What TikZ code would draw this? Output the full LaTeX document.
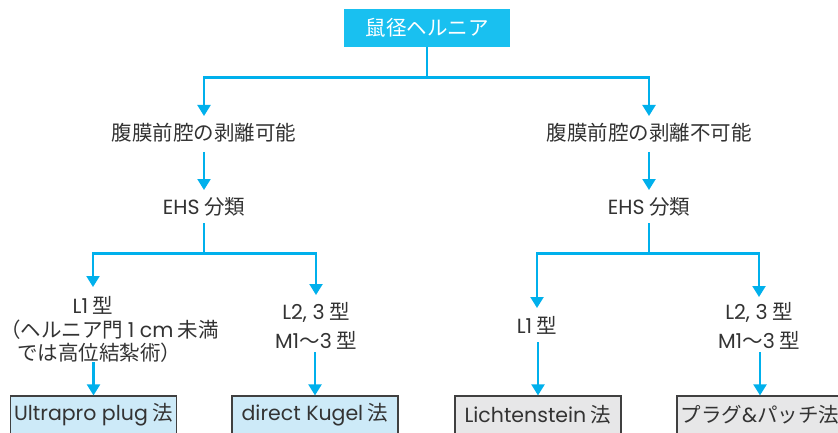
\documentclass[tikz,border=0pt]{standalone}
\usepackage{fontspec}
\setmainfont{Noto Sans CJK JP}
\newfontfamily\latf{Poppins}
\usetikzlibrary{arrows.meta,calc}
\definecolor{cy}{RGB}{0,176,236}
\definecolor{topfill}{RGB}{25,192,240}
\definecolor{txt}{RGB}{51,51,51}
\definecolor{bluefill}{RGB}{205,234,248}
\definecolor{grayfill}{RGB}{231,231,232}
\definecolor{bord}{RGB}{64,64,64}
\newcommand\lt[1]{{\latf #1}}
\begin{document}
\begin{tikzpicture}[x=1pt,y=1pt,
  lbl/.style={font=\fontsize{20.5}{24}\selectfont, text=txt, inner sep=0},
  arr/.style={draw=cy, line width=2.2pt, -{Triangle[width=13pt,length=11pt]}},
  ln/.style={draw=cy, line width=2.2pt},
  topbox/.style={fill=topfill, text=white, minimum width=166pt, minimum height=37.5pt, inner sep=0, font=\fontsize{20.5}{24}\selectfont},
  meth/.style={draw=bord, line width=1.2pt, minimum width=166pt, minimum height=38pt, inner sep=0, font=\fontsize{20.5}{24}\selectfont, text=txt},
  bluebox/.style={meth, fill=bluefill},
  graybox/.style={meth, fill=grayfill}]
\useasboundingbox (0,0) rectangle (838,-433);
\clip (0,0) rectangle (838,-433);
\fill[white] (0,0) rectangle (838,-433);

\node[topbox] (top) at (427,-27.8) {鼠径ヘルニア};
\coordinate (j1) at (427,-77.5);

\node[lbl] (a1) at (204,-133) {腹膜前腔の剥離可能};
\node[lbl] (a2) at (649,-133) {腹膜前腔の剥離不可能};
\node[lbl] (e1) at (204,-207) {\lt{EHS} 分類};
\node[lbl] (e2) at (649,-207) {\lt{EHS} 分類};
\coordinate (j2) at (204,-253.5);
\coordinate (j3) at (649,-253.5);

\node[lbl] (l1) at (93,-305) {\lt{L1} 型};
\node[lbl, anchor=west, align=left, font=\fontsize{20.5}{22.5}\selectfont] (l1b) at (0,-341)
  {（ヘルニア門 \lt{1 cm} 未満\\\hspace*{17pt}では高位結紮術）};
\node[lbl] (l2a) at (316,-312) {\lt{L2, 3} 型};
\node[lbl] (l2b) at (316,-340) {\lt{M1}～\lt{3} 型};

\node[lbl] (r1) at (537,-325) {\lt{L1} 型};
\node[lbl] (r2a) at (759,-312) {\lt{L2, 3} 型};
\node[lbl] (r2b) at (759,-340) {\lt{M1}～\lt{3} 型};

\node[bluebox] (b1) at (93.5,-415) {\lt{Ultrapro plug} 法};
\node[bluebox] (b2) at (315,-415) {\lt{direct Kugel} 法};
\node[graybox] (b3) at (538,-415) {\lt{Lichtenstein} 法};
\node[graybox] (b4) at (760,-415) {プラグ\lt{\&}パッチ法};

\draw[ln] (top.south) -- (j1);
\draw[arr] (j1) -| ([yshift=17pt]a1.center);
\draw[arr] (j1) -| ([yshift=17pt]a2.center);
\draw[arr] ([yshift=-19pt]a1.center) -- ([yshift=17pt]e1.center);
\draw[arr] ([yshift=-19pt]a2.center) -- ([yshift=17pt]e2.center);
\draw[ln] ([yshift=-16pt]e1.center) -- (j2);
\draw[ln] ([yshift=-16pt]e2.center) -- (j3);
\draw[arr] (j2) -| ([yshift=18pt]l1.center);
\draw[arr] (j2) -| ([yshift=17pt]l2a.center);
\draw[arr] (j3) -| ([yshift=17pt]r1.center);
\draw[arr] (j3) -| ([yshift=15pt]r2a.center);

\draw[arr] ([yshift=33pt]b1.north) -- (b1.north);
\draw[arr] ([yshift=43pt]b2.north) -- (b2.north);
\draw[arr] ([yshift=53pt]b3.north) -- (b3.north);
\draw[arr] ([yshift=43pt]b4.north) -- (b4.north);
\end{tikzpicture}
\end{document}
